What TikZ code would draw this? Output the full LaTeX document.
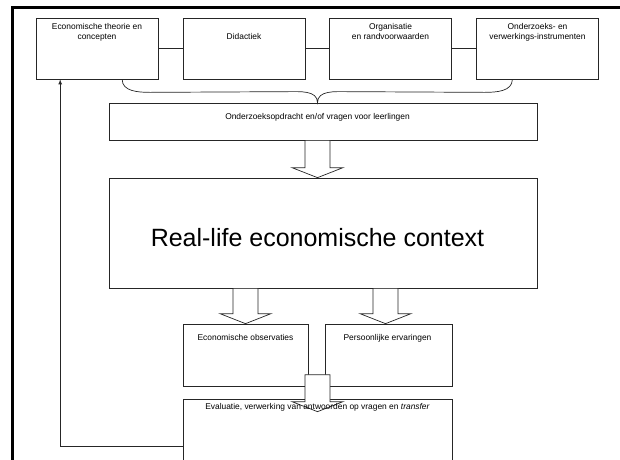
\documentclass[tikz,border=0pt]{standalone}
\usepackage{fontspec}
\setmainfont{Liberation Sans}
\usetikzlibrary{arrows,calc}
\tikzset{%
  vak/.style      = {shape=rectangle, draw=black!85, line width=0.7pt, inner sep=0pt},%
  bovenvak/.style = {vak, minimum width=122pt, minimum height=61pt},%
  ondervak/.style = {vak, minimum height=62pt},%
  tekst/.style    = {align=center, inner sep=0pt, font=\fontsize{8.4}{10.4}\selectfont},%
  groot/.style    = {inner sep=0pt, font=\fontsize{25}{30}\selectfont},%
  lijn/.style     = {draw=black!85, line width=0.7pt},%
  blok/.style     = {lijn, fill=white, line join=miter}%
}
\newcommand{\blokpijl}[2]{%
  \draw[blok] ($(#1)+(-12.5,0)$) -- ($(#2)+(-12.5,10)$) -- ($(#2)+(-25.5,10)$)
    -- (#2) -- ($(#2)+(25.5,10)$) -- ($(#2)+(12.5,10)$) -- ($(#1)+(12.5,0)$) -- cycle;}

\begin{document}
\begin{tikzpicture}[x=1pt, y=1pt]
	\useasboundingbox (0,0) rectangle (620,-459);
	\clip (0,0) rectangle (620,-459);
	\draw[line width=3pt] (12.5,-470) -- (12.5,-7.5) -- (630,-7.5);
	\coordinate (as) at (317.5,0);

	\node[bovenvak] (theorie)      at (97,-48.5)   {};
	\node[bovenvak] (didactiek)    at (244,-48.5)  {};
	\node[bovenvak] (organisatie)  at (390.5,-48.5) {};
	\node[bovenvak] (instrumenten) at (537.5,-48.5) {};
	\node[vak, minimum width=428pt, minimum height=37pt]  (opdracht) at (323,-121.5) {};
	\node[vak, minimum width=428pt, minimum height=110pt] (context)  at (323,-233) {};
	\node[ondervak, minimum width=125pt] (observaties) at (245.5,-355) {};
	\node[ondervak, minimum width=127pt] (ervaringen)  at (388.5,-355) {};
	\node[vak, minimum width=269pt, minimum height=94pt] (evaluatie) at (317.5,-446) {};

	\draw[lijn] (theorie) -- (didactiek);
	\draw[lijn] (didactiek) -- (organisatie);
	\draw[lijn] (organisatie) -- (instrumenten);

	\coordinate (accL) at ($(theorie.south west)!0.705!(theorie.south east)$);
	\coordinate (accR) at ($(instrumenten.south west)!0.295!(instrumenten.south east)$);
	\coordinate (punt) at (as |- opdracht.north);
	\draw[lijn] (accL) to[out=-90,in=180] ($(accL)+(28,-13)$)
		-- ($(punt)+(-30,11)$) to[out=0,in=90] (punt)
		to[out=90,in=180] ($(punt)+(30,11)$)
		-- ($(accR)+(-28,-13)$) to[out=0,in=-90] (accR);

	\draw[lijn,-latex] (evaluatie.west)
		-| ($(theorie.south west)!0.2!(theorie.south east)$);

	\blokpijl{as |- opdracht.south}{as |- context.north}
	\blokpijl{observaties.north |- context.south}{observaties.north}
	\coordinate (erv) at ($(ervaringen.north)+(-3,0)$);
	\blokpijl{erv |- context.south}{erv}
	\coordinate (evl) at (as |- evaluatie.north);
	\blokpijl{$(evl)+(0,24)$}{$(evl)+(0,-13)$}

	\node[tekst, anchor=north] (t-theorie) at ($(theorie.north)+(0,-5.5)$)
		{Economische theorie en\\concepten};
	\node[tekst, anchor=base] (t-didactiek) at ($(didactiek.north)+(0,-22)$)
		{Didactiek};
	\node[tekst, anchor=north] (t-organisatie) at ($(organisatie.north)+(0,-5.5)$)
		{Organisatie\\en randvoorwaarden};
	\node[tekst, anchor=north] (t-instrumenten) at ($(instrumenten.north)+(0,-5.5)$)
		{Onderzoeks- en\\verwerkings-instrumenten};
	\node[tekst, anchor=base] (t-opdracht) at ($(as |- opdracht.north)+(0,-16.5)$)
		{Onderzoeksopdracht en/of vragen voor leerlingen};
	\node[groot, anchor=base] (t-context) at ($(as |- context.north)+(0,-69)$)
		{Real-life economische context};
	\node[tekst, anchor=base] (t-observaties) at ($(observaties.north)+(0,-16.5)$)
		{Economische observaties};
	\node[tekst, anchor=base] (t-ervaringen) at ($(ervaringen.north)+(-1,-16.5)$)
		{Persoonlijke ervaringen};
	\node[tekst, anchor=base] (t-evaluatie) at ($(evl)+(0,-10.5)$)
		{Evaluatie, verwerking van antwoorden op vragen en \textit{transfer}};
\end{tikzpicture}
\end{document}
